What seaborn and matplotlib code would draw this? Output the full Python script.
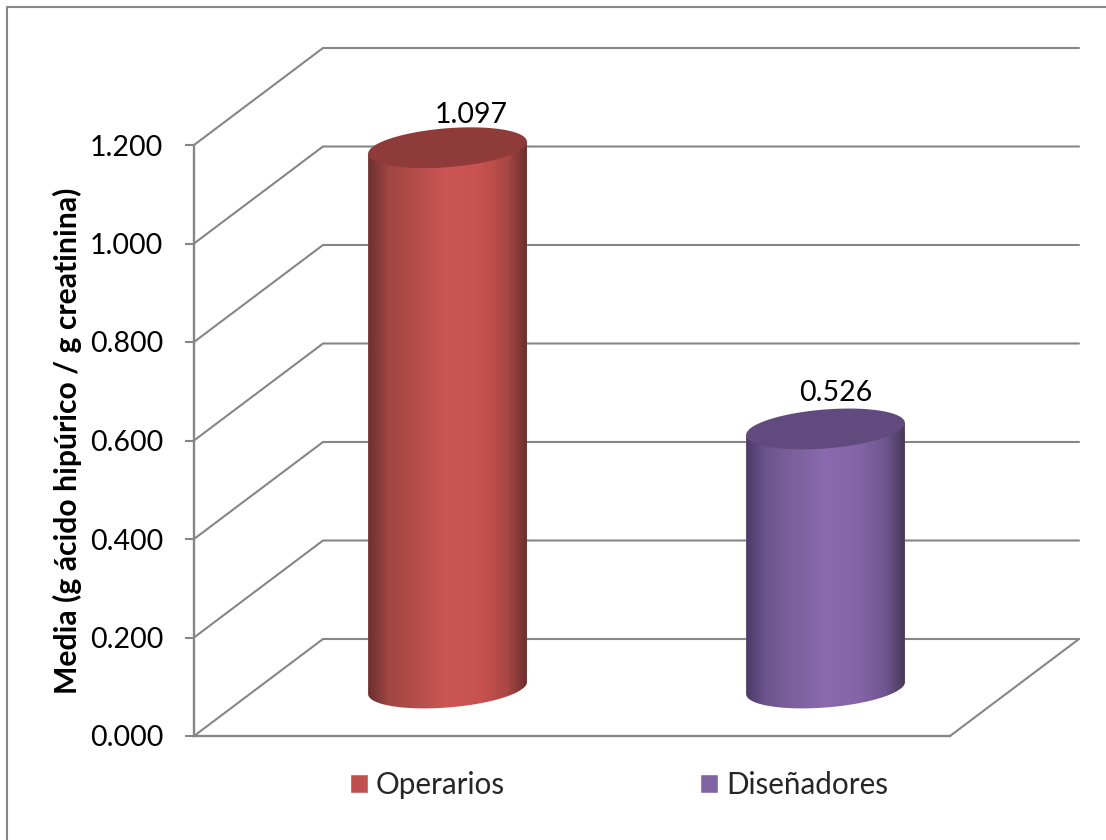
import numpy as np
import pandas as pd
import matplotlib
matplotlib.use("Agg")
import matplotlib.pyplot as plt
from matplotlib.colors import LinearSegmentedColormap
from matplotlib.lines import Line2D
from matplotlib.patches import Polygon
import seaborn as sns

# ---- data ----
categories = ["Operarios", "Diseñadores"]
values = [1.097, 0.526]
value_labels = ["1.097", "0.526"]
y_ticks = [0.0, 0.2, 0.4, 0.6, 0.8, 1.0, 1.2]
y_tick_labels = ["0.000", "0.200", "0.400", "0.600", "0.800", "1.000", "1.200"]
y_title = "Media (g ácido hipúrico / g creatinina)"

# ---- style ----
W, H = 1106, 840
GREY = "#868686"
base_colors = ["#c0504d", "#8064a2"]
top_colors = ["#8f3b3a", "#614a7d"]
shades = [
    ["#6b302e", "#a04643", "#b44e4b", "#cd5654", "#c7524f", "#a84744", "#6a2f2d"],
    ["#4c3a66", "#6d5590", "#7c619d", "#8a69ae", "#8464a6", "#6e5690", "#483859"],
]
shade_pos = [0.0, 0.13, 0.3, 0.5, 0.72, 0.88, 1.0]
label_offsets_px = [(24, 33), (10, 36)]

sns.set_theme(style="white")
plt.rcParams["font.family"] = ["Lato", "DejaVu Sans"]

fig = plt.figure(figsize=(W / 100, H / 100), dpi=100, facecolor="white")


def axes_px(x0, x1, y_top, y_bottom):
    return fig.add_axes([x0 / W, 1 - y_bottom / H, (x1 - x0) / W, (y_bottom - y_top) / H])


# front plane: value axis and the walls
ax = axes_px(194, 950, 145, 736)
ax.set_xlim(-0.5, 1.5)
ax.set_ylim(0, 1.2)
ax.set_facecolor("none")
depth_x = 129 / 378
depth_y = 97 / 492.5
for yt in y_ticks:
    ax.plot([-0.5, -0.5 + depth_x, 1.5 + depth_x],
            [yt, yt + depth_y, yt + depth_y],
            color=GREY, lw=1.5, clip_on=False, solid_joinstyle="miter", zorder=1)
ax.plot([1.5, 1.5 + depth_x], [0, depth_y], color=GREY, lw=1.5, clip_on=False, zorder=1)
for s in ["top", "right"]:
    ax.spines[s].set_visible(False)
for s in ["left", "bottom"]:
    ax.spines[s].set_color(GREY)
    ax.spines[s].set_linewidth(1.7)
ax.set_xticks([])
ax.set_yticks(y_ticks)
ax.set_yticklabels(y_tick_labels)
ax.tick_params(axis="y", left=True, length=6.5, width=1.5, color=GREY, pad=15.5,
               labelsize=20.5, labelcolor="black")
ax.set_ylabel(y_title, fontsize=21.7, fontweight="bold", color="black", labelpad=6)

# mid-depth plane: the cylinders (the value range starts below zero so the rounded base shows)
px_per_unit = 492.5
bx = axes_px(258.5, 1014.5, 97, 688 + 0.1 * px_per_unit)
frame = pd.DataFrame({"group": categories, "value": values})
sns.barplot(data=frame, x="group", y="value", hue="group", order=categories,
            hue_order=categories, palette=base_colors, saturation=1, width=0.42,
            dodge=False, legend=True, ax=bx)

sns.move_legend(bx, "center", bbox_to_anchor=(619 / W, 1 - 785 / H),
                bbox_transform=fig.transFigure, ncol=2, title=None, frameon=False,
                fontsize=21.3, handlelength=0.61, handleheight=0.61,
                handletextpad=0.27, columnspacing=6.6)

bars = [b for c in bx.containers for b in c if b.get_height() > 0]
bars.sort(key=lambda b: b.get_x())
shear = 6 / px_per_unit
minor = 19.5 / px_per_unit
t_low = np.linspace(np.pi, 2 * np.pi, 80)
t_all = np.linspace(0, 2 * np.pi, 160)

for i, bar in enumerate(bars):
    cx = bar.get_x() + bar.get_width() / 2
    a = bar.get_width() / 2
    v = bar.get_height()

    low = np.column_stack([cx + a * np.cos(t_low),
                           shear * np.cos(t_low) + minor * np.sin(t_low)])
    upper = np.column_stack([cx + a * np.cos(t_all),
                             v + shear * np.cos(t_all) + minor * np.sin(t_all)])
    body = Polygon(np.vstack([low, [[cx + a, v + shear]], [[cx - a, v - shear]]]),
                   closed=True, transform=bx.transData, fc="none", ec="none")
    bx.add_patch(body)
    bar.set_clip_path(body)

    cmap = LinearSegmentedColormap.from_list("s", list(zip(shade_pos, shades[i])))
    img = bx.imshow(np.linspace(0, 1, 256)[None, :], cmap=cmap, aspect="auto",
                    extent=(cx - a, cx + a, -0.1, v + 0.1), zorder=3,
                    interpolation="bilinear")
    img.set_clip_path(body)

    bx.add_patch(Polygon(upper, closed=True, fc=top_colors[i], ec="none", zorder=4))
    dx_px, dy_px = label_offsets_px[i]
    bx.annotate(value_labels[i], xy=(cx, v), xytext=(dx_px * 0.72, dy_px * 0.72),
                textcoords="offset points", ha="center", va="center",
                fontsize=20.5, color="black", zorder=5, annotation_clip=False)

bx.set_xlim(-0.5, 1.5)
bx.set_ylim(-0.1, 1.2)
bx.set_axis_off()

# outer chart frame
fig.add_artist(Line2D([7 / W, 7 / W, 1], [0, 1 - 7 / H, 1 - 7 / H],
                      color=GREY, lw=1.5, transform=fig.transFigure))

fig.savefig("out.png", dpi=100, facecolor="white")
